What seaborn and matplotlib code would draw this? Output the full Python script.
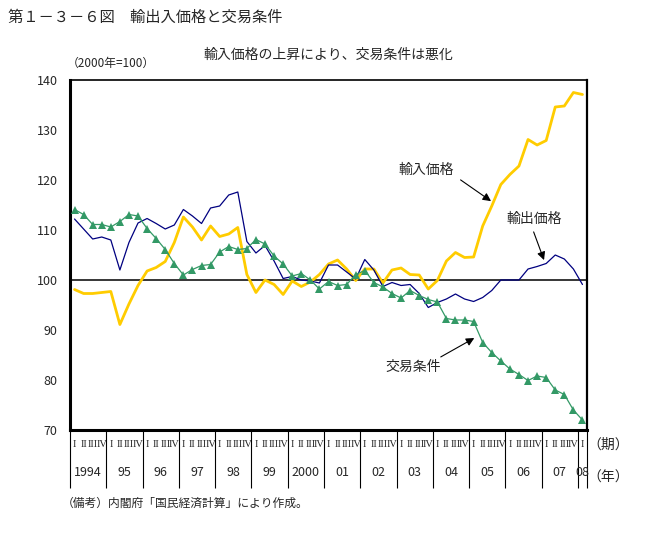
import numpy as np
import pandas as pd
import matplotlib
matplotlib.use("Agg")
import matplotlib.pyplot as plt
import seaborn as sns

# 四半期データ（1994年Ⅰ期～2008年Ⅰ期、2000年=100）
years = ["1994", "95", "96", "97", "98", "99", "2000", "01", "02", "03", "04", "05", "06", "07", "08"]
quarters = ["I", "II", "III", "IV"]

export_price = [112.2, 110.2, 108.2, 108.6, 108.0, 102.0, 107.5, 111.4,
                112.3, 111.3, 110.2, 111.0, 114.1, 112.8, 111.3, 114.4,
                114.8, 117.0, 117.6, 107.7, 105.4, 106.9, 103.8, 100.3,
                100.7, 100.0, 99.8, 99.4, 103.0, 103.0, 101.6, 100.2,
                104.1, 102.0, 98.7, 99.5, 98.9, 99.1, 97.3, 94.5,
                95.5, 96.2, 97.2, 96.2, 95.7, 96.5, 97.9, 100.0,
                100.0, 100.0, 102.2, 102.7, 103.3, 105.0, 104.2, 102.2,
                99.1]

import_price = [98.1, 97.3, 97.3, 97.5, 97.7, 91.1, 95.2, 98.9,
                101.8, 102.5, 103.7, 107.5, 112.6, 110.6, 108.0, 110.8,
                108.7, 109.2, 110.5, 101.1, 97.5, 100.0, 99.1, 97.1,
                99.8, 98.7, 99.6, 101.1, 103.2, 104.0, 102.2, 99.9,
                102.2, 102.2, 99.4, 102.0, 102.4, 101.1, 101.0, 98.2,
                99.9, 103.8, 105.5, 104.5, 104.6, 110.8, 114.8, 119.1,
                121.1, 122.8, 128.1, 127.0, 127.9, 134.6, 134.8, 137.5,
                137.1]

terms_of_trade = [114.1, 113.1, 111.1, 111.1, 110.6, 111.7, 113.1, 112.8,
                  110.3, 108.3, 106.1, 103.3, 101.0, 102.1, 102.9, 103.1,
                  105.6, 106.7, 106.1, 106.3, 108.1, 107.2, 104.8, 103.2,
                  100.8, 101.3, 100.0, 98.2, 99.7, 98.9, 99.1, 101.1,
                  101.9, 99.5, 98.6, 97.3, 96.4, 97.9, 96.9, 96.1,
                  95.6, 92.3, 92.0, 92.0, 91.7, 87.5, 85.5, 83.8,
                  82.2, 81.1, 79.9, 80.8, 80.5, 78.0, 77.1, 74.0,
                  72.0]

n = len(export_price)
df = pd.DataFrame({
    "t": np.arange(n),
    "輸出価格": export_price,
    "輸入価格": import_price,
    "交易条件": terms_of_trade,
})

sns.set_style("white")
plt.rcParams["font.family"] = ["Noto Sans CJK JP", "DejaVu Sans"]

fig = plt.figure(figsize=(6.59, 5.33), dpi=100)
ax = fig.add_axes([70 / 659, 103 / 533, 517 / 659, 350 / 533])

ax.axhline(100, color="black", lw=1.1, zorder=1)
sns.lineplot(data=df, x="t", y="輸入価格", ax=ax, color="#FFCC00", lw=2.0, zorder=3)
sns.lineplot(data=df, x="t", y="輸出価格", ax=ax, color="#000080", lw=0.9, zorder=4)
sns.lineplot(data=df, x="t", y="交易条件", ax=ax, color="#339966", lw=0.9,
             marker="^", markersize=5.5, markeredgewidth=0, zorder=5)

ax.set_xlim(-0.5, n - 0.5)
ax.set_ylim(70, 140)
ax.set_yticks(range(70, 141, 10))
ax.tick_params(axis="y", direction="in", length=3, width=1, labelsize=9, pad=9)
ax.set_xlabel("")
ax.set_ylabel("")

# 期のラベル
ax.set_xticks(range(n))
ax.set_xticklabels([quarters[i % 4] for i in range(n)], fontfamily="Liberation Serif", fontsize=7.5)
ax.tick_params(axis="x", length=0, pad=7)

for side, w in [("left", 2.2), ("bottom", 2.2), ("top", 1.2), ("right", 1.6)]:
    ax.spines[side].set_visible(True)
    ax.spines[side].set_linewidth(w)
    ax.spines[side].set_color("black")

# 年の区切りと年ラベル
xt = ax.get_xaxis_transform()
bounds = [4 * k - 0.5 for k in range(len(years))] + [n - 0.5]
ax.vlines(bounds, -0.166, 0, transform=xt, color="black", lw=0.8, clip_on=False)
for k, yr in enumerate(years):
    cx = min(4 * k + 1.5, n - 1)
    ax.text(cx, -0.12, yr, transform=xt, ha="center", va="center", fontsize=9)

fig.text(608 / 659, 1 - 445 / 533, "（期）", ha="center", va="center", fontsize=10)
fig.text(608 / 659, 1 - 478 / 533, "（年）", ha="center", va="center", fontsize=10)

# 注記・矢印
ax.text(38.75, 122.0, "輸入価格", ha="center", va="center", fontsize=10)
ax.annotate("", xy=(46.17, 115.46), xytext=(42.31, 120.34),
            arrowprops=dict(arrowstyle="-|>", color="black", lw=0.8, mutation_scale=12))
ax.text(50.66, 112.3, "輸出価格", ha="center", va="center", fontsize=10)
ax.annotate("", xy=(51.87, 103.46), xytext=(50.51, 110.14),
            arrowprops=dict(arrowstyle="-|>", color="black", lw=0.8, mutation_scale=12))
ax.text(37.32, 82.6, "交易条件", ha="center", va="center", fontsize=10)
ax.annotate("", xy=(44.34, 88.66), xytext=(40.11, 84.34),
            arrowprops=dict(arrowstyle="-|>", color="black", lw=0.8, mutation_scale=12))

# タイトル類
fig.text(8 / 659, 1 - 17 / 533, "第１－３－６図　輸出入価格と交易条件", ha="left", va="center", fontsize=11)
ax.text(0.5, 1 + 25 / 350, "輸入価格の上昇により、交易条件は悪化", transform=ax.transAxes,
        ha="center", va="center", fontsize=10)
fig.text(67 / 659, 1 - 63 / 533, "（2000年=100）", ha="left", va="center", fontsize=8.5)
fig.text(62 / 659, 1 - 503 / 533, "（備考）内閣府「国民経済計算」により作成。", ha="left", va="center", fontsize=8.5)

fig.savefig("out.png", dpi=100)
